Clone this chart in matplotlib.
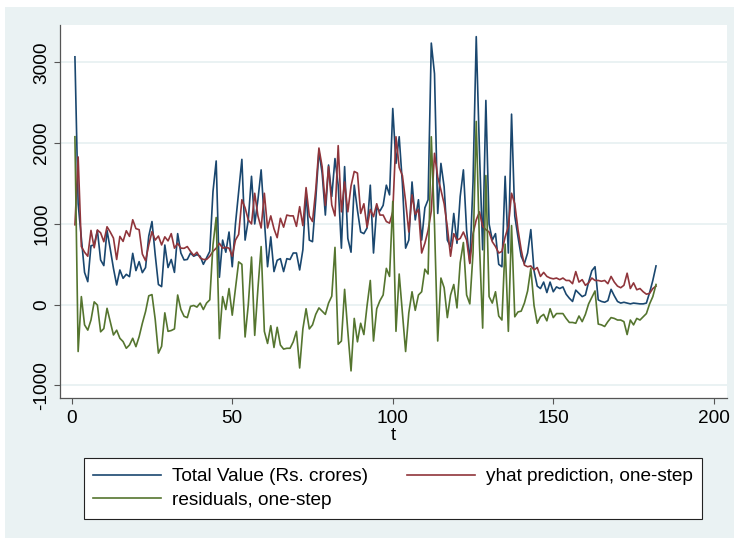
import matplotlib
matplotlib.use("Agg")
import matplotlib.pyplot as plt
from matplotlib.patches import Rectangle

# ------------------------------------------------------------
# Data (t = 1..182)
# ------------------------------------------------------------
total_value = [
    3070, 1250, 820, 400, 285, 730, 740, 920, 554, 484,
    920, 690, 450, 244, 430, 327, 376, 347, 636, 422,
    533, 397, 460, 850, 1030, 620, 250, 224, 739, 460,
    560, 400, 880, 640, 554, 560, 640, 600, 620, 600,
    500, 580, 660, 1400, 1780, 340, 800, 650, 900, 470,
    1000, 1400, 1800, 800, 1050, 1590, 1000, 1300, 1670, 1050,
    470, 840, 410, 550, 570, 410, 570, 560, 640, 640,
    430, 680, 1400, 800, 780, 1300, 1900, 1630, 1110, 1730,
    1340, 1810, 1480, 700, 1710, 820, 650, 1480, 1170, 900,
    880, 950, 1480, 640, 1200, 1160, 1230, 1480, 1360, 2430,
    1750, 2080, 1500, 700, 800, 1520, 1050, 1300, 800, 1200,
    1300, 3240, 2860, 1130, 1750, 1460, 800, 720, 1130, 760,
    1340, 1670, 920, 520, 1520, 3320, 1900, 680, 2530, 1000,
    800, 880, 500, 470, 1590, 640, 2360, 1100, 840, 600,
    510, 640, 930, 420, 230, 200, 280, 150, 280, 160,
    220, 200, 220, 130, 80, 40, 180, 140, 100, 120,
    280, 420, 470, 60, 40, 30, 50, 190, 110, 40,
    20, 30, 20, 10, 20, 15, 10, 10, 20, 150,
    300, 480,
]

yhat = [
    990, 1830, 720, 650, 600, 920, 705, 925, 890, 780,
    965, 900, 825, 560, 846, 784, 916, 846, 1052, 942,
    929, 627, 545, 740, 905, 800, 850, 740, 840, 790,
    880, 700, 760, 700, 698, 720, 660, 610, 650, 580,
    560, 560, 600, 660, 700, 760, 700, 710, 700, 600,
    800, 870, 1300, 1200, 1050, 1000, 1380, 1100, 950, 1380,
    950, 1100, 940, 830, 1070, 960, 1110, 1100, 1100, 970,
    1214, 980, 1450, 1100, 1030, 1420, 1940, 1710, 1230, 1710,
    1235, 1100, 1970, 1150, 1520, 1150, 1470, 1650, 1630, 1130,
    1250, 960, 1180, 1090, 1250, 1110, 1110, 1030, 1010, 1150,
    2080, 1700, 1600, 1280, 900, 1360, 1120, 1180, 640, 760,
    920, 1160, 1875, 1580, 1420, 1250, 960, 600, 880, 800,
    820, 900, 800, 510, 880, 1050, 1150, 970, 930, 900,
    780, 720, 640, 660, 840, 970, 1380, 1250, 930, 680,
    490, 470, 480, 430, 460, 350, 400, 350, 330, 320,
    330, 310, 330, 300, 300, 260, 410, 280, 310, 240,
    270, 330, 300, 300, 290, 300, 260, 350, 280, 230,
    210, 240, 390, 200, 270, 185, 200, 160, 130, 140,
    200, 230,
]

residuals = [
    2080, -580, 100, -250, -315, -190, 35, -5, -336, -296,
    -45, -210, -375, -316, -416, -457, -540, -499, -416, -520,
    -396, -230, -85, 110, 125, -180, -600, -516, -101, -330,
    -320, -300, 120, -60, -144, -160, -20, -10, -30, 20,
    -60, 20, 60, 740, 1080, -420, 100, -60, 200, -130,
    200, 530, 500, -400, 0, 590, -380, 200, 720, -330,
    -480, -260, -530, -280, -500, -550, -540, -540, -460, -330,
    -784, -300, -50, -300, -250, -120, -40, -80, -120, 20,
    105, 710, -490, -450, 190, -330, -820, -170, -460, -230,
    -370, -10, 300, -450, -50, 50, 120, 450, 350, 1280,
    -330, 380, -100, -580, -100, 160, -70, 120, 160, 440,
    380, 2080, 985, -450, 330, 210, -160, 120, 250, -40,
    520, 770, 120, 10, 640, 2270, 750, -290, 1600, 100,
    20, 160, -140, -190, 750, -330, 980, -150, -90, -80,
    20, 170, 450, -10, -230, -150, -120, -200, -50, -160,
    -110, -110, -110, -170, -220, -220, -230, -140, -210, -120,
    10, 90, 170, -240, -250, -270, -210, -160, -170, -190,
    -190, -210, -370, -190, -250, -170, -190, -150, -110, 10,
    100, 250,
]

t = list(range(1, len(total_value) + 1))

series_labels = [
    "Total Value (Rs. crores)",
    "yhat prediction, one-step",
    "residuals, one-step",
]
x_ticks = [0, 50, 100, 150, 200]
y_ticks = [-1000, 0, 1000, 2000, 3000]

# Stata s2color palette
NAVY = "#1A476F"
MAROON = "#90353B"
FOREST = "#55752F"
REGION = "#EAF2F3"

FS = 13.7


def main():
    plt.rcParams["font.family"] = ["Liberation Sans", "DejaVu Sans"]
    plt.rcParams["font.size"] = FS
    plt.rcParams["axes.unicode_minus"] = False

    fig = plt.figure(figsize=(7.34, 5.38), dpi=100)
    fig.patch.set_facecolor("white")

    # light graph region (leaves a thin white strip at left/top like the source)
    region = Rectangle((5 / 734, 0), 1, 1 - 7 / 538,
                       transform=fig.transFigure,
                       facecolor=REGION, edgecolor="none", zorder=-10)
    fig.add_artist(region)

    ax = fig.add_axes([60 / 734, 1 - 397.7 / 538,
                       (727.3 - 60) / 734, (397.7 - 25) / 538])
    ax.set_zorder(1)
    ax.set_facecolor("white")

    l_tot, = ax.plot(t, total_value, color=NAVY, lw=1.2, zorder=3)
    l_hat, = ax.plot(t, yhat, color=MAROON, lw=1.2, zorder=3)
    l_res, = ax.plot(t, residuals, color=FOREST, lw=1.2, zorder=3)

    ax.set_xlim(-3.65, 204.2)
    ax.set_ylim(-1152, 3464)
    ax.set_xticks(x_ticks)
    ax.set_yticks(y_ticks)
    ax.grid(axis="y", color=REGION, lw=1.4, zorder=1)
    ax.set_axisbelow(True)

    for side in ["top", "right"]:
        ax.spines[side].set_visible(False)
    for side in ["left", "bottom"]:
        ax.spines[side].set_color("#555555")
        ax.spines[side].set_linewidth(0.9)

    ax.tick_params(axis="both", direction="out", length=4, width=0.8,
                   color="#555555", labelsize=FS)
    ax.tick_params(axis="y", pad=3)
    ax.tick_params(axis="x", pad=5)
    for lab in ax.get_yticklabels():
        lab.set_rotation(90)
        lab.set_va("center")
        lab.set_ha("right")

    ax.set_xlabel("t", labelpad=0, fontsize=FS)

    # matplotlib fills legend columns first, so order for row-wise reading
    leg = fig.legend([l_tot, l_res, l_hat],
                     [series_labels[0], series_labels[2], series_labels[1]],
                     ncol=2, loc="center",
                     bbox_to_anchor=(393 / 734, 1 - 488.5 / 538),
                     frameon=True, fancybox=False, edgecolor="#222222",
                     facecolor="white", framealpha=1,
                     handlelength=3.55, handletextpad=0.6, labelspacing=0.35,
                     columnspacing=2.05, borderpad=0.5, borderaxespad=0,
                     fontsize=FS)
    leg.get_frame().set_linewidth(0.8)

    fig.savefig("out.png", dpi=100, facecolor=fig.get_facecolor())
    plt.close(fig)


if __name__ == "__main__":
    main()
